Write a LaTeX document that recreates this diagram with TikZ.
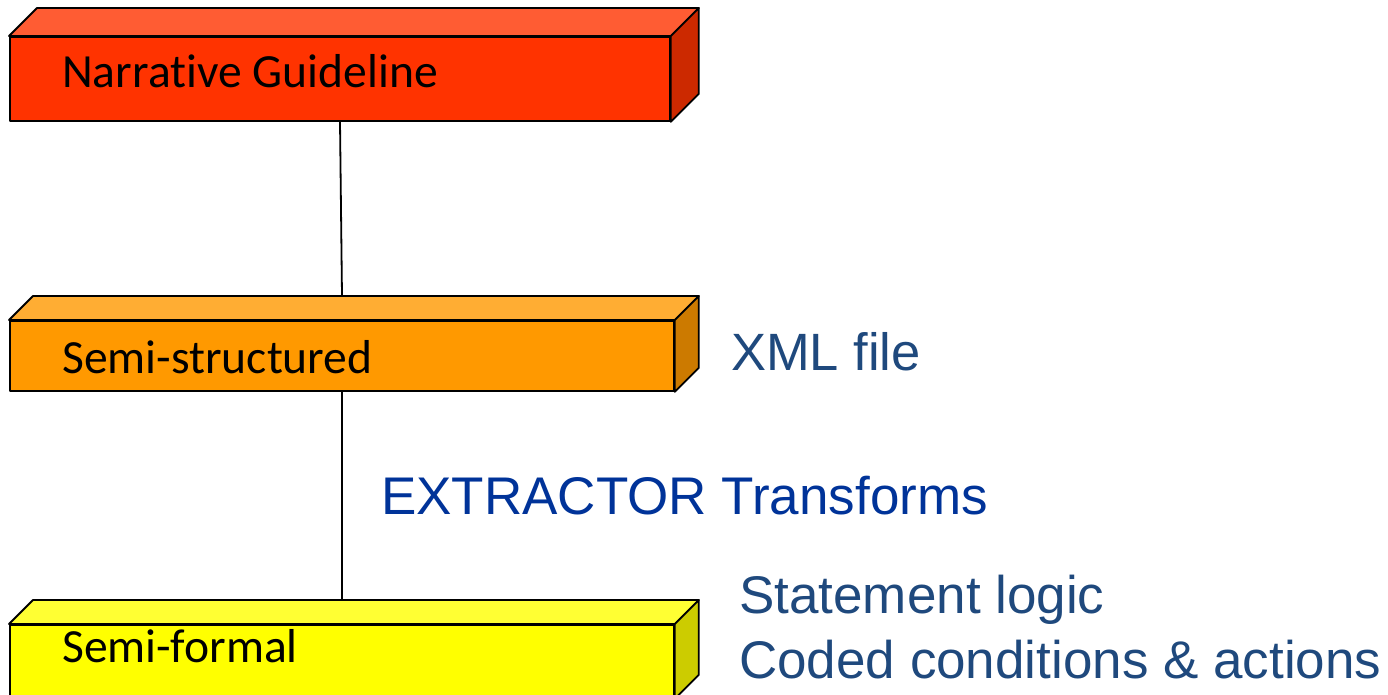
\documentclass[tikz,border=0pt]{standalone}
\usepackage{fontspec}
\setmainfont{Carlito}[RawFeature={-liga;-clig;-dlig}]
\newfontfamily\arialf{Liberation Sans}
\definecolor{redfront}{RGB}{255,51,0}
\definecolor{redtop}{RGB}{255,92,51}
\definecolor{redside}{RGB}{204,41,0}
\definecolor{orafront}{RGB}{255,153,0}
\definecolor{oratop}{RGB}{255,173,51}
\definecolor{oraside}{RGB}{204,122,0}
\definecolor{yelfront}{RGB}{255,255,0}
\definecolor{yeltop}{RGB}{255,255,51}
\definecolor{yelside}{RGB}{204,204,0}
\definecolor{navyt}{RGB}{31,73,125}
\definecolor{bluet}{RGB}{0,51,153}
\tikzset{
  face/.style={draw=black, line width=1.8pt, line join=round},
  conn/.style={draw=black, line width=1.8pt},
  boxtext/.style={inner sep=0pt, anchor=base west, font=\fontsize{47.6}{56}\selectfont, text=black},
  sidetext/.style={inner sep=0pt, anchor=base west, font=\arialf\fontsize{53}{60}\selectfont, text=navyt},
}
\newcommand\drawbox[9]{%
  \node[face, fill=#7, inner sep=0pt, minimum width={(#4-#2)*1pt}, minimum height={(#5-#3)*1pt}, anchor=north west] (#1) at (#2,#3) {};
  \filldraw[face, fill=#8] (#1.north west) -- ++(#6,-#6) -- ([shift={(#6pt,#6pt)}]#1.north east) -- (#1.north east) -- cycle;
  \filldraw[face, fill=#9] (#1.north east) -- ++(#6,-#6) -- ([shift={(#6pt,#6pt)}]#1.south east) -- (#1.south east) -- cycle;
}
\begin{document}
\begin{tikzpicture}[x=1pt,y=-1pt]
\useasboundingbox (0,0) rectangle (1388,694);
\clip (0,0) rectangle (1388,694);
\drawbox{b1}{9}{36}{669}{120}{28}{redfront}{redtop}{redside}
\drawbox{b2}{9}{320}{673}{390}{24}{orafront}{oratop}{oraside}
\drawbox{b3}{9}{624}{673}{697}{24}{yelfront}{yeltop}{yelside}
\draw[conn] ([xshift=331pt]b1.south west) -- ([xshift=333pt,yshift=24pt]b2.north west);
\draw[conn] ([xshift=333pt]b2.south west) -- ([xshift=333pt,yshift=24pt]b3.north west);
\node[boxtext] (t1) at (62,87) {Narrative Guideline};
\node[boxtext] (t2) at (62,373) {Semi-structured};
\node[boxtext] (t3) at (62,662) {Semi-formal};
\node[sidetext, font=\arialf\fontsize{52.5}{60}\selectfont] (xml) at (731,370) {XML file};
\node[sidetext, text=bluet] (ext) at (381,514) {EXTRACTOR Transforms};
\node[sidetext] (stl) at (739,613) {Statement logic};
\node[sidetext] (ccd) at (739,678) {Coded conditions \& actions};
\end{tikzpicture}
\end{document}
